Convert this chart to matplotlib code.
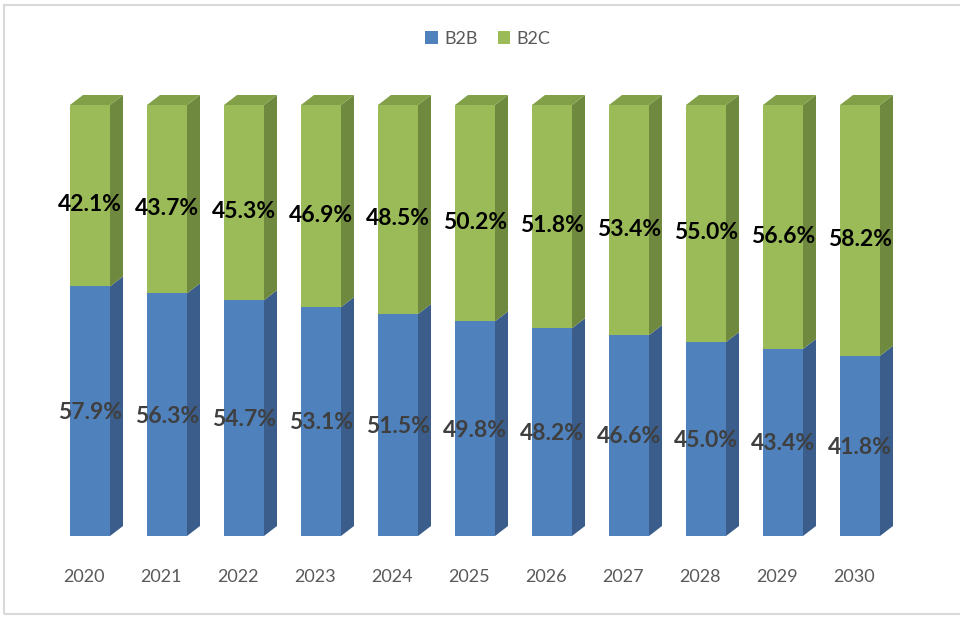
import matplotlib
matplotlib.use("Agg")
import matplotlib.pyplot as plt
from matplotlib.patches import Polygon, Patch, Rectangle
from matplotlib.transforms import ScaledTranslation

years = ["2020", "2021", "2022", "2023", "2024", "2025", "2026", "2027", "2028", "2029", "2030"]
b2b = [57.9, 56.3, 54.7, 53.1, 51.5, 49.8, 48.2, 46.6, 45.0, 43.4, 41.8]
b2c = [42.1, 43.7, 45.3, 46.9, 48.5, 50.2, 51.8, 53.4, 55.0, 56.6, 58.2]
series_names = ["B2B", "B2C"]

FONT = ["Lato", "DejaVu Sans"]
plt.rcParams["font.family"] = FONT

W, H = 960, 617
fig = plt.figure(figsize=(W / 100, H / 100), dpi=100)
fig.patch.set_facecolor("white")

# chart-area border
fig.patches.append(Rectangle((4 / W, 1 - 614 / H), 1.2, (614 - 5) / H,
                             transform=fig.transFigure, fill=False,
                             edgecolor="#d9d9d9", linewidth=1.5))

# axes: y=0 at px 536, y=100 at px 105 ; bar i front center at px 90+77i
px_step = 77
left_px = 90 - 0.5 * px_step
ax = fig.add_axes([left_px / W, (H - 536) / H, 11 * px_step / W, 431 / H])
ax.set_xlim(-0.5, 10.5)
ax.set_ylim(0, 100)
for s in ax.spines.values():
    s.set_visible(False)
ax.set_yticks([])

bw = 40 / px_step          # front face width (data units)
dx = 13 / px_step          # depth offset x
dy = 10 / 431 * 100        # depth offset y

front = {"B2B": "#4f81bd", "B2C": "#9bbb59"}
side = {"B2B": "#3a5d8b", "B2C": "#6f8a3e"}
top = {"B2B": "#5d86bb", "B2C": "#81a048"}

for i in range(len(years)):
    base = 0.0
    x0, x1 = i - bw / 2, i + bw / 2
    segs = [("B2B", b2b[i]), ("B2C", b2c[i])]
    for name, v in segs:
        y0, y1 = base, base + v
        ax.add_patch(Polygon([(x0, y0), (x1, y0), (x1, y1), (x0, y1)],
                             closed=True, facecolor=front[name], edgecolor="none", zorder=2))
        ax.add_patch(Polygon([(x1, y0), (x1 + dx, y0 + dy), (x1 + dx, y1 + dy), (x1, y1)],
                             closed=True, facecolor=side[name], edgecolor="none", zorder=2,
                             clip_on=False))
        base = y1
    # top face
    ax.add_patch(Polygon([(x0, base), (x1, base), (x1 + dx, base + dy), (x0 + dx, base + dy)],
                         closed=True, facecolor=top["B2C"], edgecolor="none", zorder=2,
                         clip_on=False))
    # labels
    ax.annotate(f"{b2b[i]:.1f}%", (i, b2b[i] / 2), xytext=(0, -1), textcoords="offset points",
                ha="center", va="center", fontsize=16.5, fontweight="bold",
                color="#3f3f3f", zorder=5, annotation_clip=False)
    ax.annotate(f"{b2c[i]:.1f}%", (i, b2b[i] + b2c[i] / 2), xytext=(0, -6.5),
                textcoords="offset points", ha="center", va="center", fontsize=16.5,
                fontweight="bold", color="#000000", zorder=5, annotation_clip=False)

ax.set_xticks(range(len(years)))
ax.set_xticklabels(years, fontsize=13, color="#595959")
ax.tick_params(axis="x", length=0, pad=24)
for lbl in ax.get_xticklabels():
    lbl.set_transform(lbl.get_transform() + ScaledTranslation(-6 / 100, 0, fig.dpi_scale_trans))

handles = [Patch(facecolor=front[n], edgecolor="none", label=n) for n in series_names]
fig.legend(handles=handles, loc="center", bbox_to_anchor=(488 / W, 1 - 39 / H), ncol=2,
           frameon=False, fontsize=13, handlelength=0.7, handleheight=0.7,
           handletextpad=0.35, columnspacing=1.1, labelcolor="#595959")

fig.savefig("out.png", dpi=100, facecolor="white")
